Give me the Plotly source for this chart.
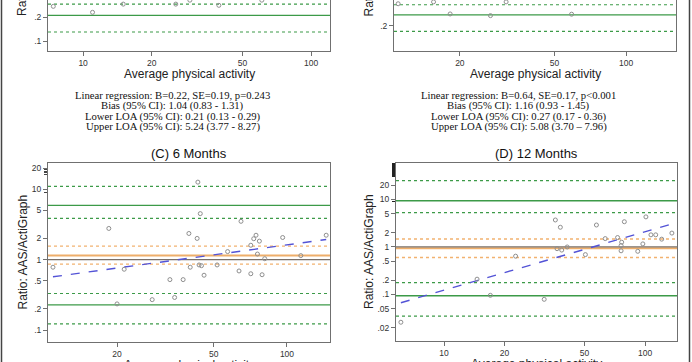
import math
import plotly.graph_objects as go

W, H = 692, 362

# ---------------- data ----------------
# Panel A (top-left, cropped at top)
a_x = [7.4, 11, 15, 25.5, 29.4, 39.4, 60.8]
a_y = [0.272, 0.229, 0.29, 0.29, 0.325, 0.28, 0.325]
a_loa = [0.21]
a_loa_ci = [0.13, 0.29]

# Panel B (top-right, cropped at top)
b_x = [11, 15.5, 18.2, 26.9, 31.3, 59]
b_y = [0.37, 0.39, 0.278, 0.265, 0.39, 0.276]
b_loa = [0.27]
b_loa_ci = [0.17, 0.36]

# Panel C: 6 months
c_x = [43, 44, 64.7, 18.5, 39.5, 42.7, 74.6, 73, 77, 96, 145, 71, 57, 10.9, 21.4,
       75.6, 81, 114, 40, 43.5, 44.5, 51.6, 45.6, 63.5, 71, 79, 33, 37.4, 34.5, 27.9, 20]
c_y = [12.6, 4.5, 3.5, 2.77, 2.35, 2.0, 2.22, 1.98, 1.83, 2.06, 2.22, 1.6, 1.3, 0.78, 0.73,
       1.2, 1.03, 1.14, 0.78, 0.84, 0.82, 0.84, 0.6, 0.69, 0.63, 0.61, 0.52, 0.52, 0.29, 0.27, 0.235]
c_bias = [1.14]
c_bias_ci = [0.86, 1.55]
c_loa = [0.228, 5.9]
c_loa_ci = [0.122, 0.33, 3.85, 11.0]
c_reg_x = [10.9, 145]
c_reg_y = [0.57, 1.93]

# Panel D: 12 months
d_x = [35.8, 37.9, 57.3, 78.9, 101, 63.4, 73, 76.5, 107, 113, 121, 136, 97.5, 41, 36.5,
       38.5, 22.7, 50.5, 76, 76, 92, 14.6, 17, 31.5, 6.1]
d_y = [3.7, 2.6, 2.9, 3.4, 4.3, 1.5, 1.58, 1.26, 1.8, 1.8, 1.46, 1.96, 1.16, 1.0, 0.92,
       0.86, 0.64, 0.69, 1.07, 0.83, 0.81, 0.21, 0.096, 0.079, 0.026]
d_bias = [0.94]
d_bias_ci = [0.6, 1.47]
d_loa = [0.094, 9.4]
d_loa_ci = [0.035, 0.177, 5.3, 24.9]
d_reg_x = [6.1, 136]
d_reg_y = [0.067, 3.05]

ref_line = [1]

x_tickvals = [10, 20, 50, 100]
x_ticktext = ["10", "20", "50", "100"]
y_tickvals = [0.02, 0.05, 0.1, 0.2, 0.5, 1, 2, 5, 10, 20]
y_ticktext = [".02", ".05", ".1", ".2", ".5", "1", "2", "5", "10", "20"]

text_a = ["Linear regression: B=0.22, SE=0.19, p=0.243",
          "Bias (95% CI): 1.04 (0.83 - 1.31)",
          "Lower LOA (95% CI): 0.21 (0.13 - 0.29)",
          "Upper LOA (95% CI): 5.24 (3.77 - 8.27)"]
text_b = ["Linear regression: B=0.64, SE=0.17, p<0.001",
          "Bias (95% CI): 1.16 (0.93 - 1.45)",
          "Lower LOA (95% CI): 0.27 (0.17 - 0.36)",
          "Upper LOA (95% CI): 5.08 (3.70 \u2013 7.96)"]

# ---------------- styling ----------------
GREEN = "#3c9a48"
ORANGE = "#f2b270"
ORANGE_SOLID = "#eeae6a"
GREY1 = "#7a7068"
BLUE = "#5353d6"
PT = "#8e8e8e"
FRAME = "#707070"
SANS = "Liberation Sans, Arial, sans-serif"
SERIF = "Liberation Serif, Times New Roman, serif"

def xdom(p0, p1):
    return [p0 / W, p1 / W]

def ydom(top, bot):
    return [max(0, 1 - bot / H), min(1, 1 - top / H)]

panels = {
    "A": dict(xd=xdom(48, 330), yd=ydom(0, 51), xr=[0.846, 2.083], yr=[-1.124, -0.486], top=False),
    "B": dict(xd=xdom(394, 676), yd=ydom(0, 51), xr=[1.024, 2.21], yr=[-1.008, -0.386], top=False),
    "C": dict(xd=xdom(48, 330), yd=ydom(163, 342), xr=[1.017, 2.177], yr=[-1.17, 1.372], top=True),
    "D": dict(xd=xdom(396, 677), yd=ydom(163, 341), xr=[0.761, 2.159], yr=[-1.98, 1.768], top=True),
}
ids = {"A": "", "B": "2", "C": "3", "D": "4"}

fig = go.Figure()

def hline(key, vals, color, dash, width):
    p = panels[key]
    i = ids[key]
    x0, x1 = 10 ** p["xr"][0], 10 ** p["xr"][1]
    for v in vals:
        fig.add_trace(go.Scatter(x=[x0, x1], y=[v, v], mode="lines",
                                 line=dict(color=color, dash=dash, width=width),
                                 xaxis="x" + i, yaxis="y" + i, hoverinfo="skip",
                                 showlegend=False))

def pts(key, xs, ys):
    i = ids[key]
    fig.add_trace(go.Scatter(x=xs, y=ys, mode="markers",
                             marker=dict(symbol="circle-open", size=4, color=PT,
                                         line=dict(width=1, color=PT)),
                             xaxis="x" + i, yaxis="y" + i, showlegend=False))

def reg(key, xs, ys):
    i = ids[key]
    fig.add_trace(go.Scatter(x=xs, y=ys, mode="lines",
                             line=dict(color=BLUE, dash="dash", width=1.4),
                             xaxis="x" + i, yaxis="y" + i, showlegend=False, hoverinfo="skip"))

hline("A", a_loa_ci, GREEN, "dot", 1.2)
hline("A", a_loa, GREEN, "solid", 1.2)
pts("A", a_x, a_y)

hline("B", b_loa_ci, GREEN, "dot", 1.2)
hline("B", b_loa, GREEN, "solid", 1.2)
pts("B", b_x, b_y)

hline("C", c_loa_ci, GREEN, "dot", 1.2)
hline("C", c_loa, GREEN, "solid", 1.2)
hline("C", c_bias_ci, ORANGE, "dot", 1.3)
hline("C", c_bias, ORANGE_SOLID, "solid", 2)
hline("C", ref_line, GREY1, "solid", 1.2)
reg("C", c_reg_x, c_reg_y)
pts("C", c_x, c_y)

hline("D", d_loa_ci, GREEN, "dot", 1.2)
hline("D", d_loa, GREEN, "solid", 1.4)
hline("D", d_bias_ci, ORANGE, "dot", 1.3)
hline("D", d_bias, ORANGE_SOLID, "solid", 2.2)
hline("D", ref_line, GREY1, "solid", 1.2)
reg("D", d_reg_x, d_reg_y)
pts("D", d_x, d_y)

fig.add_trace(go.Scatter(x=[], y=[], xaxis="x3", yaxis="y5", showlegend=False))
fig.add_trace(go.Scatter(x=[], y=[], xaxis="x4", yaxis="y6", showlegend=False))

tickfont = dict(family=SANS, size=8.5, color="#333333")

layout = dict(width=W, height=H, margin=dict(l=0, r=0, t=0, b=0),
              paper_bgcolor="white", plot_bgcolor="white", showlegend=False)

for key, p in panels.items():
    i = ids[key]
    xtv = [v for v in x_tickvals if p["xr"][0] <= math.log10(v) <= p["xr"][1]]
    xtt = [x_ticktext[x_tickvals.index(v)] for v in xtv]
    ytv = [v for v in y_tickvals if p["yr"][0] + 0.02 <= math.log10(v) <= p["yr"][1]]
    ytt = [y_ticktext[y_tickvals.index(v)] for v in ytv]
    layout["xaxis" + i] = dict(type="log", domain=p["xd"], range=p["xr"], anchor="y" + i,
                               tickvals=xtv, ticktext=xtt, ticks="outside", ticklen=3.5,
                               ticklabelstandoff=0,
                               tickcolor=FRAME, tickfont=tickfont, showgrid=False,
                               zeroline=False, showline=True, linecolor=FRAME, linewidth=1,
                               mirror=p["top"], fixedrange=True)
    layout["yaxis" + i] = dict(type="log", domain=p["yd"], range=p["yr"], anchor="x" + i,
                               tickvals=ytv, ticktext=ytt, ticks="outside", ticklen=4,
                               tickcolor=FRAME, tickfont=tickfont, showgrid=False,
                               zeroline=False, showline=True, linecolor=FRAME, linewidth=1,
                               mirror=True, fixedrange=True)

c_minor = [9, 16, 17, 18, 19]
d_minor = [9] + list(range(30, 57))
layout["yaxis5"] = dict(type="log", overlaying="y3", anchor="x3", side="left",
                        range=panels["C"]["yr"], tickvals=c_minor, ticks="outside",
                        ticklen=3, tickcolor="#444", showticklabels=False, showgrid=False,
                        zeroline=False, showline=False, fixedrange=True)
layout["yaxis6"] = dict(type="log", overlaying="y4", anchor="x4", side="left",
                        range=panels["D"]["yr"], tickvals=d_minor, ticks="outside",
                        ticklen=3, tickcolor="#222", showticklabels=False, showgrid=False,
                        zeroline=False, showline=False, fixedrange=True)

fig.update_layout(**layout)

def px_ann(text, x, y, size, family, color="#111", angle=0):
    fig.add_annotation(text=text, x=x / W, y=1 - y / H, xref="paper", yref="paper",
                       showarrow=False, xanchor="center", yanchor="middle",
                       textangle=angle, font=dict(family=family, size=size, color=color))

for cx, cy in [(189, 74), (535, 74), (189, 364.5), (536.5, 363.5)]:
    px_ann("Average physical activity", cx, cy, 12, SANS, "#222")
for cx, cy in [(22, -41), (368.5, -41), (22, 252.5), (369, 252)]:
    px_ann("Ratio: AAS/ActiGraph", cx, cy, 12, SANS, "#222", angle=-90)

px_ann("(C) 6 Months", 189, 153, 13, SANS, "#111")
px_ann("(D) 12 Months", 536.5, 153, 13, SANS, "#111")

line_y = [95, 105.5, 116, 126.5]
for t, y in zip(text_a, line_y):
    px_ann(t, 172.5, y, 10.7, SERIF, "#111")
for t, y in zip(text_b, line_y):
    px_ann(t, 518.5, y, 10.7, SERIF, "#111")

fig.add_shape(type="line", xref="paper", yref="paper", x0=1.5 / W, x1=1.5 / W, y0=0, y1=1,
              line=dict(color="#444", width=1.5))
fig.add_shape(type="line", xref="paper", yref="paper", x0=689.5 / W, x1=689.5 / W, y0=0, y1=1,
              line=dict(color="#444", width=1.5))

fig.write_html("out.html", config={"displayModeBar": False, "staticPlot": True},
               post_script="document.body.style.margin='0px';document.body.style.overflow='hidden';")
